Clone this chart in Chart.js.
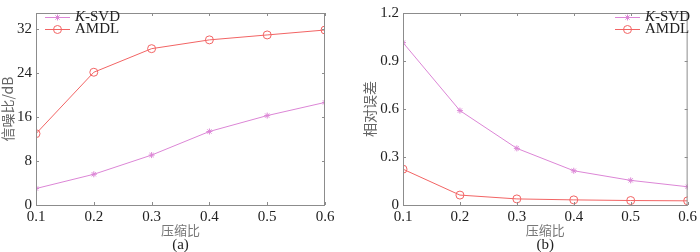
<!DOCTYPE html>
<html>
<head>
<meta charset="utf-8">
<script src="https://cdn.jsdelivr.net/npm/chart.js@4.4.0/dist/chart.umd.min.js"></script>
<style>
  body { margin: 0; background: #fff; }
  .panel { position: absolute; top: 0; width: 350px; height: 252px; }
</style>
</head>
<body>
<div class="panel" style="left:0"><canvas id="snr" width="350" height="252"></canvas></div>
<div class="panel" style="left:350px"><canvas id="err" width="350" height="252"></canvas></div>
<script>
// Kompressionsverhältnis
const ratios = [0.1, 0.2, 0.3, 0.4, 0.5, 0.6];
const seriesNames = ['K-SVD', 'AMDL'];

// (a) 信噪比/dB
const snrKsvd = [3.0, 5.6, 9.1, 13.4, 16.3, 18.7];
const snrAmdl = [13.0, 24.2, 28.5, 30.1, 31.0, 31.9];

// (b) 相对误差
const errKsvd = [1.015, 0.59, 0.354, 0.214, 0.154, 0.114];
const errAmdl = [0.224, 0.062, 0.038, 0.032, 0.028, 0.026];

const snrTicks = [0, 8, 16, 24, 32];
const errTicks = [0, 0.3, 0.6, 0.9, 1.2];

const pink = '#dc86d6';
const red = '#f26464';
const serif = '"Liberation Serif", "Times New Roman", serif';
const cjk = '"Noto Sans CJK SC", sans-serif';

function toPoints(ys) {
    return ratios.map(function(x, i) { return { x: x, y: ys[i] }; });
}

// Rahmen, Ticks nach innen, Achsentitel und Legende selbst zeichnen
const framePlugin = {
    id: 'frame',
    afterDraw(chart, args, opts) {
        const ctx = chart.ctx;
        const a = chart.chartArea;
        const xs = chart.scales.x, ys = chart.scales.y;
        ctx.save();
        ctx.strokeStyle = '#8c8c8c';
        ctx.lineWidth = 1;
        ctx.strokeRect(a.left + 0.5, a.top + 0.5, a.right - a.left - 1, a.bottom - a.top);
        ctx.beginPath();
        ratios.forEach(function(v) {
            const px = Math.round(xs.getPixelForValue(v)) + 0.5;
            ctx.moveTo(px, a.bottom); ctx.lineTo(px, a.bottom - 3);
            ctx.moveTo(px, a.top); ctx.lineTo(px, a.top + 3);
        });
        opts.yTicks.forEach(function(v) {
            const py = Math.round(ys.getPixelForValue(v)) + 0.5;
            ctx.moveTo(a.left, py); ctx.lineTo(a.left + 3, py);
            ctx.moveTo(a.right, py); ctx.lineTo(a.right - 3, py);
        });
        ctx.stroke();

        // Achsentitel
        const cx = (a.left + a.right) / 2;
        ctx.fillStyle = '#777';
        ctx.textAlign = 'center';
        ctx.textBaseline = 'middle';
        ctx.font = '13px ' + cjk;
        ctx.fillText('压缩比', cx, 230);
        ctx.fillStyle = '#222';
        ctx.font = '15px ' + serif;
        ctx.fillText(opts.panel, cx, 245);

        ctx.save();
        ctx.translate(opts.yTitleX, (a.top + a.bottom) / 2);
        ctx.rotate(-Math.PI / 2);
        ctx.fillStyle = '#666';
        ctx.font = '14px ' + cjk;
        ctx.fillText(opts.yTitle, 0, 0);
        ctx.restore();

        // Legende
        const lx = opts.legendX;
        const rows = [17, 29];
        chart.data.datasets.forEach(function(ds, i) {
            const y = rows[i];
            ctx.strokeStyle = ds.borderColor;
            ctx.fillStyle = ds.backgroundColor;
            ctx.lineWidth = 1;
            ctx.beginPath();
            ctx.moveTo(lx, y + 0.5); ctx.lineTo(lx + 25, y + 0.5);
            ctx.stroke();
            Chart.helpers.drawPoint(ctx, {
                pointStyle: ds.pointStyle, radius: ds.pointRadius, borderWidth: 1
            }, lx + 12.5, y + 0.5);
            ctx.fillStyle = '#222';
            ctx.textAlign = 'left';
            ctx.textBaseline = 'middle';
            if (i === 0) {
                ctx.font = 'italic 15px ' + serif;
                ctx.fillText('K', lx + 30, y);
                const w = ctx.measureText('K').width;
                ctx.font = '15px ' + serif;
                ctx.fillText('-SVD', lx + 30 + w, y);
            } else {
                ctx.font = '15px ' + serif;
                ctx.fillText(seriesNames[i], lx + 30, y);
            }
        });
        ctx.restore();
    }
};

function makeChart(id, ksvd, amdl, yMax, yTicks, fmt, yWidth, rightPad, extra) {
    const ctx = document.getElementById(id);
    return new Chart(ctx.getContext('2d'), {
        type: 'line',
        data: {
            datasets: [
                {
                    label: seriesNames[0],
                    data: toPoints(ksvd),
                    borderColor: pink,
                    backgroundColor: pink,
                    borderWidth: 1,
                    pointStyle: 'star',
                    pointRadius: 3,
                    pointBorderWidth: 1,
                    fill: false
                },
                {
                    label: seriesNames[1],
                    data: toPoints(amdl),
                    borderColor: red,
                    backgroundColor: 'rgba(0,0,0,0)',
                    borderWidth: 1,
                    pointStyle: 'circle',
                    pointRadius: 4,
                    pointBorderWidth: 1,
                    fill: false
                }
            ]
        },
        options: {
            responsive: false,
            animation: false,
            layout: { padding: { top: 5, right: rightPad, left: 0, bottom: 0 } },
            plugins: {
                legend: { display: false },
                tooltip: { enabled: false },
                frame: extra
            },
            scales: {
                x: {
                    type: 'linear',
                    min: 0.1,
                    max: 0.6,
                    afterFit: function(s) { s.height = 47; },
                    afterBuildTicks: function(s) {
                        s.ticks = ratios.map(function(v) { return { value: v }; });
                    },
                    grid: { display: false, drawTicks: false },
                    border: { display: false },
                    ticks: {
                        padding: 3,
                        color: '#222',
                        font: { family: serif, size: 15 },
                        callback: function(v) { return v.toFixed(1); }
                    }
                },
                y: {
                    min: 0,
                    max: yMax,
                    afterFit: function(s) { s.width = yWidth; },
                    afterBuildTicks: function(s) {
                        s.ticks = yTicks.map(function(v) { return { value: v }; });
                    },
                    grid: { display: false, drawTicks: false },
                    border: { display: false },
                    ticks: {
                        padding: 4,
                        color: '#222',
                        font: { family: serif, size: 15 },
                        callback: fmt
                    }
                }
            }
        },
        plugins: [framePlugin]
    });
}

makeChart('snr', snrKsvd, snrAmdl, 35, snrTicks,
    function(v) { return String(v); }, 36, 25,
    { panel: '(a)', yTitle: '信噪比/dB', yTitleX: 8, legendX: 45, yTicks: snrTicks });

makeChart('err', errKsvd, errAmdl, 1.2, errTicks,
    function(v) { return v === 0 ? '0' : v.toFixed(1); }, 53, 7,
    { panel: '(b)', yTitle: '相对误差', yTitleX: 20, legendX: 265, yTicks: errTicks });
</script>
</body>
</html>
